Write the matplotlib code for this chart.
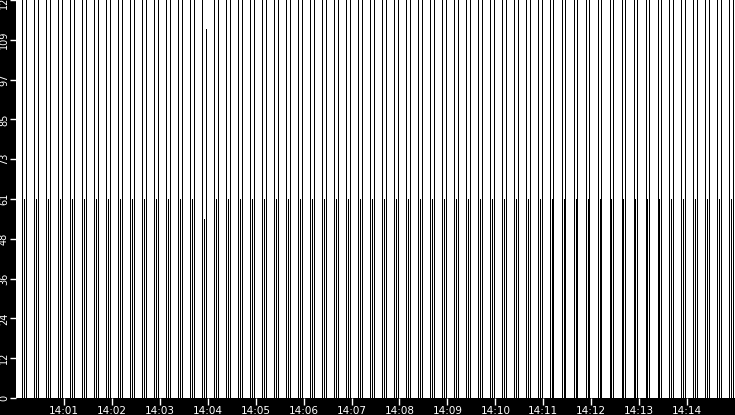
import pandas as pd
import matplotlib
matplotlib.use("Agg")
import matplotlib.pyplot as plt
import matplotlib.dates as mdates

# start of each 15 s cycle (first full-height pulse)
cycle_start = [
    "14:00:08", "14:00:23", "14:00:38", "14:00:53", "14:01:08", "14:01:23", "14:01:38", "14:01:53",
    "14:02:08", "14:02:23", "14:02:38", "14:02:53", "14:03:08", "14:03:23", "14:03:38", "14:03:53",
    "14:04:08", "14:04:23", "14:04:38", "14:04:53", "14:05:08", "14:05:23", "14:05:38", "14:05:53",
    "14:06:08", "14:06:23", "14:06:38", "14:06:53", "14:07:08", "14:07:23", "14:07:38", "14:07:53",
    "14:08:08", "14:08:23", "14:08:38", "14:08:53", "14:09:08", "14:09:23", "14:09:38", "14:09:53",
    "14:10:08", "14:10:23", "14:10:38", "14:10:53", "14:11:08", "14:11:23", "14:11:38", "14:11:53",
    "14:12:08", "14:12:23", "14:12:38", "14:12:53", "14:13:08", "14:13:23", "14:13:38", "14:13:53",
    "14:14:08", "14:14:23", "14:14:38", "14:14:53",
]
# seconds after cycle start for the three pulses
pulse_offset = [0.0, 2.4, 4.8]

first_pulse = [
    122, 122, 122, 122, 122, 122, 122, 122, 122, 122, 122, 122, 122, 122, 122, 122,
    122, 122, 122, 122, 122, 122, 122, 122, 122, 122, 122, 122, 122, 122, 122, 122,
    122, 122, 122, 122, 122, 122, 122, 122, 122, 122, 122, 122, 122, 122, 122, 122,
    122, 122, 122, 122, 122, 122, 122, 122, 122, 122, 122, 122,
]
mid_pulse = [
    61, 61, 61, 61, 61, 61, 61, 61, 61, 61, 61, 61, 61, 61, 61, 55,
    61, 61, 61, 61, 61, 61, 61, 61, 61, 61, 61, 61, 61, 61, 61, 61,
    61, 61, 61, 61, 61, 61, 61, 61, 61, 61, 61, 61, 61, 61, 61, 61,
    61, 61, 61, 61, 61, 61, 61, 61, 61, 61, 61, 61,
]
last_pulse = [
    122, 122, 122, 122, 122, 122, 122, 122, 122, 122, 122, 122, 122, 122, 122, 113,
    122, 122, 122, 122, 122, 122, 122, 122, 122, 122, 122, 122, 122, 122, 122, 122,
    122, 122, 122, 122, 122, 122, 122, 122, 122, 122, 122, 122, 122, 122, 122, 122,
    122, 122, 122, 122, 122, 122, 122, 122, 122, 122, 122, 122,
]

y_max = 122
x_from, x_to = "2024-01-01 14:00:00", "2024-01-01 14:15:00"

fig = plt.figure(figsize=(7.35, 4.15), dpi=100, facecolor="black")
ax = fig.add_axes([16 / 735, 17 / 415, 719 / 735, 398 / 415])
ax.set_facecolor("white")

starts = pd.to_datetime(["2024-01-01 " + s for s in cycle_start])
for off, heights in zip(pulse_offset, [first_pulse, mid_pulse, last_pulse]):
    t = starts + pd.to_timedelta(off, unit="s")
    ax.vlines(mdates.date2num(t), 0, heights, colors="black", linewidth=0.72,
              antialiased=False)

ax.set_xlim(pd.Timestamp(x_from), pd.Timestamp(x_to))
ax.set_ylim(0, y_max)

ax.xaxis.set_major_locator(mdates.MinuteLocator(byminute=range(1, 15)))
ax.xaxis.set_major_formatter(mdates.DateFormatter("%H:%M"))
yticks = [y_max * i / 10 for i in range(11)]
ax.set_yticks(yticks)
ax.set_yticklabels([str(int(v)) for v in yticks], rotation=90, va="center")

ax.tick_params(colors="white", width=1)
ax.tick_params(axis="y", labelsize=7, length=4, pad=1)
ax.tick_params(axis="x", labelsize=7.5, length=5, pad=0.5)
for s in ax.spines.values():
    s.set_visible(False)

fig.savefig("out.png", dpi=100, facecolor="black")
